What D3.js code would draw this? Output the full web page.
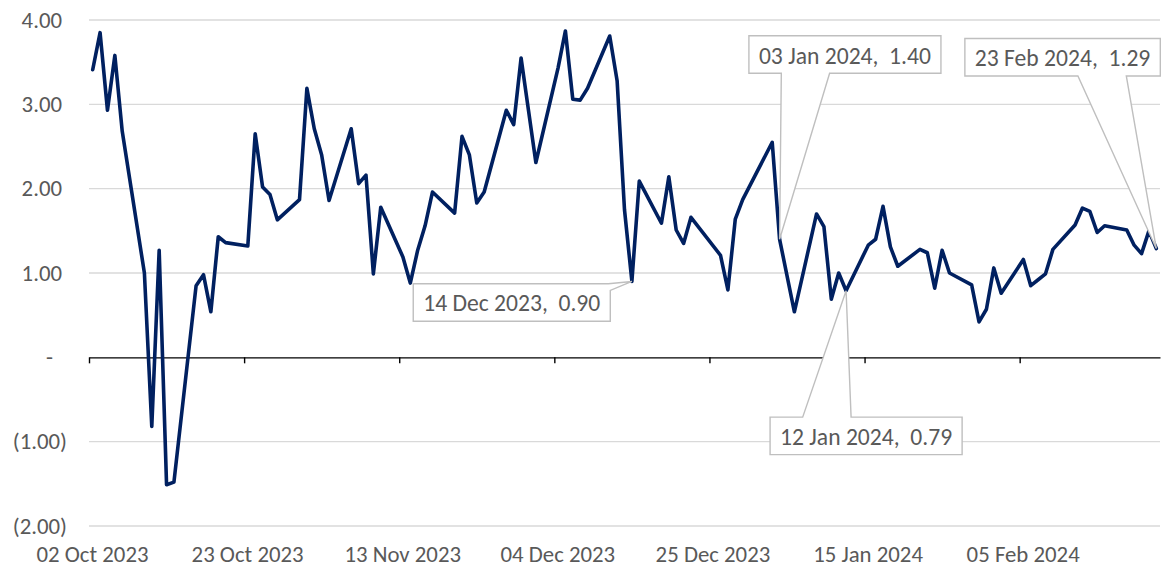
<!DOCTYPE html>
<html>
<head>
<meta charset="utf-8">
<script src="https://cdn.jsdelivr.net/npm/d3@7"></script>
<style>
  html, body { margin: 0; padding: 0; background: #ffffff; }
  svg { display: block; }
  text { font-family: Calibri, Carlito, Lato, sans-serif; }
</style>
</head>
<body>
<svg id="chart" width="1166" height="568"></svg>
<script>
// Daily series (trading days)
const dates = [
  "2023-10-02","2023-10-03","2023-10-04","2023-10-05","2023-10-06",
  "2023-10-09","2023-10-10","2023-10-11","2023-10-12","2023-10-13",
  "2023-10-16","2023-10-17","2023-10-18","2023-10-19","2023-10-20",
  "2023-10-23","2023-10-24","2023-10-25","2023-10-26","2023-10-27",
  "2023-10-30","2023-10-31","2023-11-01","2023-11-02","2023-11-03",
  "2023-11-06","2023-11-07","2023-11-08","2023-11-09","2023-11-10",
  "2023-11-13","2023-11-14","2023-11-15","2023-11-16","2023-11-17",
  "2023-11-20","2023-11-21","2023-11-22","2023-11-23","2023-11-24",
  "2023-11-27","2023-11-28","2023-11-29","2023-11-30","2023-12-01",
  "2023-12-04","2023-12-05","2023-12-06","2023-12-07","2023-12-08",
  "2023-12-11","2023-12-12","2023-12-13","2023-12-14","2023-12-15",
  "2023-12-18","2023-12-19","2023-12-20","2023-12-21","2023-12-22",
  "2023-12-26","2023-12-27","2023-12-28","2023-12-29",
  "2024-01-02","2024-01-03","2024-01-04","2024-01-05",
  "2024-01-08","2024-01-09","2024-01-10","2024-01-11","2024-01-12",
  "2024-01-15","2024-01-16","2024-01-17","2024-01-18","2024-01-19",
  "2024-01-22","2024-01-23","2024-01-24","2024-01-25","2024-01-26",
  "2024-01-29","2024-01-30","2024-01-31","2024-02-01","2024-02-02",
  "2024-02-05","2024-02-06","2024-02-07","2024-02-08","2024-02-09",
  "2024-02-12","2024-02-13","2024-02-14","2024-02-15","2024-02-16",
  "2024-02-19","2024-02-20","2024-02-21","2024-02-22","2024-02-23"
];
const values = [
  3.41, 3.85, 2.93, 3.58, 2.68,
  1.00, -0.82, 1.27, -1.51, -1.48,
  0.85, 0.98, 0.54, 1.43, 1.36,
  1.32, 2.65, 2.02, 1.93, 1.63,
  1.87, 3.19, 2.71, 2.40, 1.86,
  2.71, 2.06, 2.16, 0.99, 1.78,
  1.19, 0.88, 1.27, 1.56, 1.96,
  1.71, 2.62, 2.40, 1.83, 1.96,
  2.93, 2.76, 3.55, 2.93, 2.31,
  3.43, 3.87, 3.06, 3.05, 3.19,
  3.81, 3.28, 1.75, 0.90, 2.09,
  1.59, 2.14, 1.51, 1.35, 1.66,
  1.21, 0.80, 1.64, 1.87,
  2.55, 1.40, 0.97, 0.54,
  1.70, 1.55, 0.69, 1.00, 0.79,
  1.33, 1.40, 1.79, 1.31, 1.08,
  1.28, 1.24, 0.82, 1.27, 1.00,
  0.86, 0.42, 0.57, 1.06, 0.76,
  1.16, 0.85, 0.92, 0.99, 1.28,
  1.57, 1.77, 1.73, 1.48, 1.56,
  1.51, 1.33, 1.23, 1.50, 1.29
];

// Axis ticks
const xTickDates = ["2023-10-02","2023-10-23","2023-11-13","2023-12-04","2023-12-25","2024-01-15","2024-02-05"];
const yTicks = [-2, -1, 0, 1, 2, 3, 4];

// Labelled points
const calloutDates = ["2023-12-14", "2024-01-03", "2024-01-12", "2024-02-23"];

const parse = d3.timeParse("%Y-%m-%d");
const fmtDate = d3.timeFormat("%d %b %Y");
const series = dates.map((d, i) => ({ date: parse(d), value: values[i] }));
// Points sit in the middle of their day
const mid = d => d3.timeHour.offset(d, 12);

const svg = d3.select("#chart");
const x = d3.scaleTime()
  .domain([parse("2023-10-02"), parse("2024-02-24")])
  .range([89, 1160]);
const y = d3.scaleLinear().domain([-2, 4]).range([526, 20]);

const TEXT = "#595959";
const FS = 22.8;
const FS_CALLOUT = 23.6;

// Horizontal gridlines
svg.append("g")
  .selectAll("line")
  .data(yTicks.filter(v => v !== 0))
  .join("line")
  .attr("x1", x.range()[0]).attr("x2", x.range()[1])
  .attr("y1", d => y(d)).attr("y2", d => y(d))
  .attr("stroke", "#d9d9d9").attr("stroke-width", 1.3);

// Value axis labels (accounting style)
const yFmt = v => v === 0 ? "-" : v < 0 ? `(${d3.format(".2f")(-v)})` : d3.format(".2f")(v);
const yAxis = d3.axisLeft(y).tickValues(yTicks).tickFormat(yFmt).tickSize(0).tickPadding(0);
const gy = svg.append("g").call(yAxis);
gy.select(".domain").remove();
gy.selectAll("text")
  .attr("x", d => d < 0 ? 67 : d === 0 ? 53 : 62)
  .attr("fill", TEXT)
  .style("font-size", FS + "px")
  .style("font-family", "Calibri, Carlito, Lato, sans-serif");

// Category axis line with tick marks at zero
const xAxis = d3.axisBottom(x)
  .tickValues(xTickDates.map(parse))
  .tickFormat("")
  .tickSize(6)
  .tickSizeOuter(0);
const gx = svg.append("g").attr("transform", `translate(0,${y(0)})`).call(xAxis);
gx.select(".domain").attr("stroke", "#000").attr("stroke-width", 1.4);
gx.selectAll(".tick line").attr("stroke", "#000").attr("stroke-width", 1.4);

// Date labels along the bottom
const xLab = d3.axisBottom(x)
  .tickValues(xTickDates.map(parse))
  .tickFormat(fmtDate)
  .tickSize(0)
  .tickPadding(0);
const gl = svg.append("g").attr("transform", `translate(0,${y(-2)})`).call(xLab);
gl.select(".domain").remove();
gl.selectAll("text")
  .attr("dy", null)
  .attr("y", 36)
  .attr("dx", 3)
  .attr("fill", TEXT)
  .style("font-size", FS + "px")
  .style("font-family", "Calibri, Carlito, Lato, sans-serif");

// Series line
const line = d3.line().x(d => x(mid(d.date))).y(d => y(d.value));
svg.append("path")
  .datum(series)
  .attr("d", line)
  .attr("fill", "none")
  .attr("stroke", "#002060")
  .attr("stroke-width", 3.6)
  .attr("stroke-linejoin", "round")
  .attr("stroke-linecap", "round");

// Callout placement around each labelled point
const layouts = {
  "2023-12-14": { anchor: "right-top", dx: -21.6, dy: 2.3, kind: "corner" },
  "2024-01-03": { anchor: "left-bottom", dx: -30.7, dy: -166, kind: "bottom", a: 1.7, b: 50 },
  "2024-01-12": { anchor: "left-top", dx: -76, dy: 126.4, kind: "top", a: -43.4, b: 5 },
  "2024-02-23": { anchor: "right-bottom", dx: 4, dy: -172.6, kind: "bottom", a: -78.4, b: -30 }
};

const gc = svg.append("g");
calloutDates.forEach(ds => {
  const pt = series.find(s => +s.date === +parse(ds));
  const px = x(mid(pt.date)), py = y(pt.value);
  const L = layouts[ds];
  const g = gc.append("g");
  const path = g.append("path");
  const txt = g.append("text")
    .style("white-space", "pre")
    .attr("fill", TEXT)
    .style("font-size", FS_CALLOUT + "px")
    .attr("text-anchor", "middle")
    .attr("dominant-baseline", "central")
    .text(`${fmtDate(pt.date)},  ${pt.value.toFixed(2)}`);
  const w = txt.node().getComputedTextLength() + 20;
  const h = 37.5;
  let x0, y0;
  if (L.anchor === "right-top") { x0 = px + L.dx - w; y0 = py + L.dy; }
  if (L.anchor === "left-bottom") { x0 = px + L.dx; y0 = py + L.dy - h; }
  if (L.anchor === "left-top") { x0 = px + L.dx; y0 = py + L.dy; }
  if (L.anchor === "right-bottom") { x0 = px + L.dx - w; y0 = py + L.dy - h; }
  const x1 = x0 + w, y1 = y0 + h;
  let pts;
  if (L.kind === "corner") {
    pts = [[x0, y0], [x1 - 2, y0], [px, py], [x1, y0 + 6.7], [x1, y1], [x0, y1]];
  } else if (L.kind === "top") {
    pts = [[x0, y0], [px + L.a, y0], [px, py], [px + L.b, y0], [x1, y0], [x1, y1], [x0, y1]];
  } else {
    pts = [[x0, y0], [x1, y0], [x1, y1], [px + L.b, y1], [px, py], [px + L.a, y1], [x0, y1]];
  }
  path.attr("d", "M" + pts.map(p => p.join(",")).join("L") + "Z")
    .attr("fill", "#ffffff")
    .attr("stroke", "#bfbfbf")
    .attr("stroke-width", 1.4);
  txt.attr("x", (x0 + x1) / 2).attr("y", (y0 + y1) / 2 + 1);
});
</script>
</body>
</html>
